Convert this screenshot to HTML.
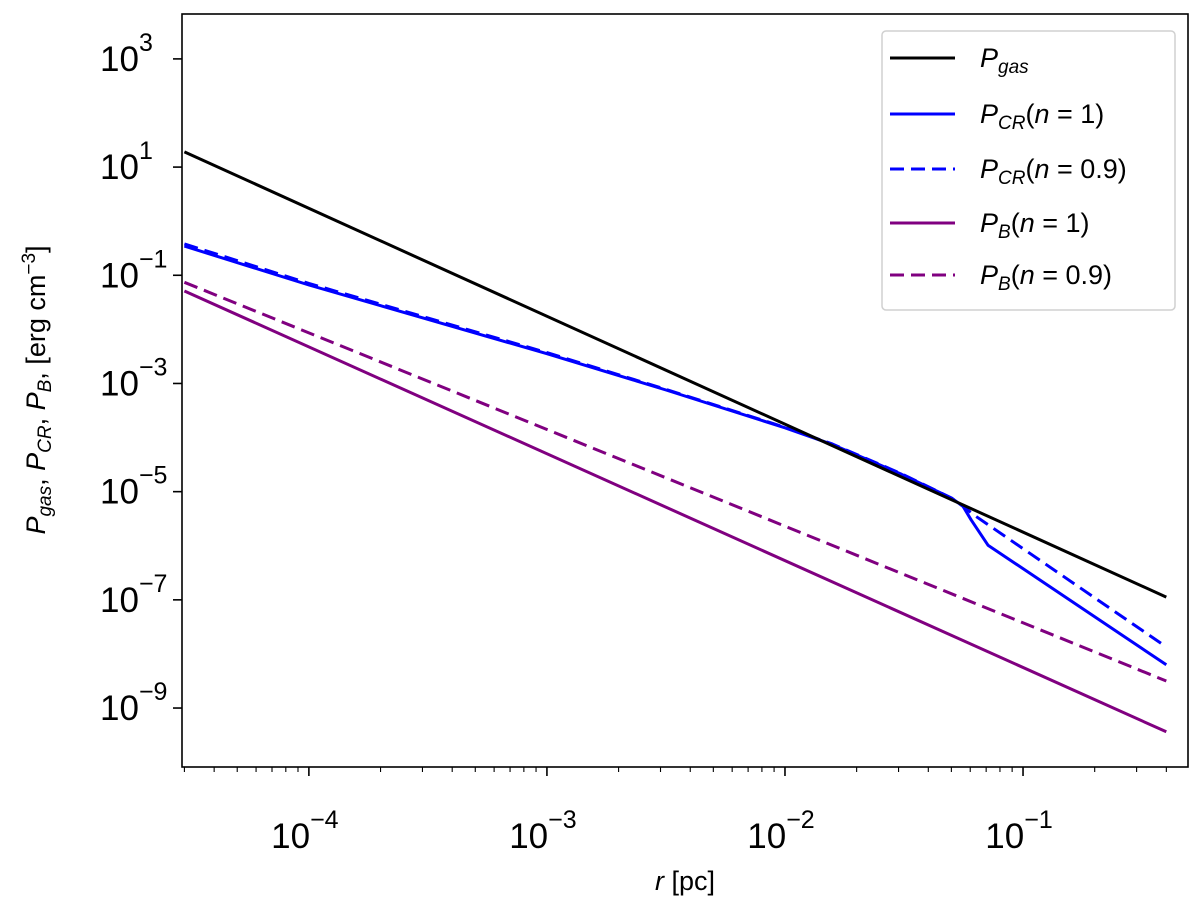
<!DOCTYPE html>
<html><head><meta charset="utf-8">
<style>
html,body{margin:0;padding:0;background:#fff;}
svg{display:block;font-family:"Liberation Sans",Arial,sans-serif;}
</style></head>
<body>
<svg id="chart" width="1200" height="903" viewBox="0 0 1200 903" xmlns="http://www.w3.org/2000/svg">
<rect x="0" y="0" width="1200" height="903" fill="#fff"/>
<g id="plot"></g>
<g id="axes"></g>
<g id="legend"></g>
</svg>
<script>
// log10 data
const xTicks = [-4, -3, -2, -1];
const yTicks = [3, 1, -1, -3, -5, -7, -9];
const gasX = [-4.523, -0.398];
const gasY = [1.28, -6.95];
const crX = [-4.523, -4.0, -3.0, -2.5, -2.0, -1.8, -1.51, -1.30, -1.252, -1.218, -1.147, -0.398];
const crY = [-0.46, -1.18, -2.45, -3.12, -3.82, -4.13, -4.68, -5.12, -5.27, -5.52, -5.99, -8.2];
const cr9X = [-4.523, -4.0, -3.0, -2.5, -2.0, -1.8, -1.51, -1.30, -1.252, -1.2, -0.398];
const cr9Y = [-0.42, -1.15, -2.43, -3.11, -3.81, -4.12, -4.67, -5.12, -5.27, -5.45, -7.87];
const bX = [-4.523, -0.398];
const bY = [-1.29, -9.44];
const b9X = [-4.523, -0.398];
const b9Y = [-1.13, -8.50];

const L=182, R=1188, T=14, B=767;
const xmin=-4.533, xmax=-0.307, ymin=-10.09, ymax=3.83;
const sx = v => L + (v - xmin) / (xmax - xmin) * (R - L);
const sy = v => B - (v - ymin) / (ymax - ymin) * (B - T);
const NS = 'http://www.w3.org/2000/svg';
function mk(tag, attrs, parent){const e=document.createElementNS(NS,tag);for(const k in attrs)e.setAttribute(k,attrs[k]);parent.appendChild(e);return e;}
const plot=document.getElementById('plot'), axes=document.getElementById('axes');

function line(xs, ys, color, dash, name){
  const d = xs.map((x,i)=>(i?'L':'M')+sx(x).toFixed(1)+','+sy(ys[i]).toFixed(1)).join(' ');
  const p = mk('path',{d:d,fill:'none',stroke:color,'stroke-width':3,'stroke-linejoin':'round','stroke-dasharray':dash||'none'},plot);
  
  
}
line(b9X,b9Y,'#800080','14 7','line-pb-n0.9');
line(bX,bY,'#800080','','line-pb-n1');
line(cr9X,cr9Y,'#0000ff','14 7','line-pcr-n0.9');
line(crX,crY,'#0000ff','','line-pcr-n1');
line(gasX,gasY,'#000000','','line-pgas');

const frame = mk('rect',{x:L,y:T,width:R-L,height:B-T,fill:'none',stroke:'#000','stroke-width':1.6},axes);



for(let dec=-5; dec<=0; dec++){
  for(let m=1;m<10;m++){
    const v=dec+Math.log10(m);
    if(v<xmin||v>xmax) continue;
    const x=sx(v), len=(m===1)?9:5;
    const t=mk('line',{x1:x,x2:x,y1:B,y2:B+len,stroke:'#000','stroke-width':(m===1)?1.6:1.1},axes);
    
    
  }
}
xTicks.forEach(v=>{
  const tx=mk('text',{x:sx(v)-4,y:848,'font-size':35,'text-anchor':'middle',fill:'#000'},axes);
  
  
  tx.innerHTML='10<tspan dy="-20" font-size="25">−'+Math.abs(v)+'</tspan>';
});
yTicks.forEach(v=>{
  const y=sy(v);
  const t=mk('line',{x1:L-9,x2:L,y1:y,y2:y,stroke:'#000','stroke-width':1.6},axes);
  
  
  const tx=mk('text',{x:100,y:y+12,'font-size':35,fill:'#000'},axes);
  
  
  tx.innerHTML='10<tspan dy="-20" font-size="25">'+(v<0?'−':'')+Math.abs(v)+'</tspan>';
});
</script>
<svg style="position:absolute;left:0;top:0" width="1200" height="903">
<text x="685" y="890" font-size="27" text-anchor="middle" font-family="Liberation Sans, sans-serif"><tspan font-style="italic">r</tspan> [pc]</text>
<text transform="translate(45,390) rotate(-90)" font-size="27" text-anchor="middle" font-family="Liberation Sans, sans-serif"><tspan font-style="italic">P</tspan><tspan font-style="italic" font-size="19" dy="6">gas</tspan><tspan dy="-6">, </tspan><tspan font-style="italic">P</tspan><tspan font-style="italic" font-size="19" dy="6">CR</tspan><tspan dy="-6">, </tspan><tspan font-style="italic">P</tspan><tspan font-style="italic" font-size="19" dy="6">B</tspan><tspan dy="-6">, [erg cm</tspan><tspan font-size="19" dy="-10">−3</tspan><tspan dy="10">]</tspan></text>
<g font-family="Liberation Sans, sans-serif" font-size="27">
<rect x="882" y="31" width="293" height="279" rx="4" fill="#fff" fill-opacity="0.85" stroke="#d0d0d0" stroke-width="1.5"/>
<g><line x1="890" x2="955" y1="58" y2="58" stroke="#000" stroke-width="3"/><text x="980" y="67"><tspan font-style="italic">P</tspan><tspan font-style="italic" font-size="19" dy="6">gas</tspan></text></g>
<g><line x1="890" x2="955" y1="114" y2="114" stroke="#0000ff" stroke-width="3"/><text x="980" y="123"><tspan font-style="italic">P</tspan><tspan font-style="italic" font-size="19" dy="6">CR</tspan><tspan dy="-6">(</tspan><tspan font-style="italic">n</tspan> = 1)</text></g>
<g><line x1="890" x2="955" y1="169" y2="169" stroke="#0000ff" stroke-width="3" stroke-dasharray="14 7"/><text x="980" y="178"><tspan font-style="italic">P</tspan><tspan font-style="italic" font-size="19" dy="6">CR</tspan><tspan dy="-6">(</tspan><tspan font-style="italic">n</tspan> = 0.9)</text></g>
<g><line x1="890" x2="955" y1="223" y2="223" stroke="#800080" stroke-width="3"/><text x="980" y="232"><tspan font-style="italic">P</tspan><tspan font-style="italic" font-size="19" dy="6">B</tspan><tspan dy="-6">(</tspan><tspan font-style="italic">n</tspan> = 1)</text></g>
<g><line x1="890" x2="955" y1="275" y2="275" stroke="#800080" stroke-width="3" stroke-dasharray="14 7"/><text x="980" y="284"><tspan font-style="italic">P</tspan><tspan font-style="italic" font-size="19" dy="6">B</tspan><tspan dy="-6">(</tspan><tspan font-style="italic">n</tspan> = 0.9)</text></g>
</g>
</svg>
</body></html>
